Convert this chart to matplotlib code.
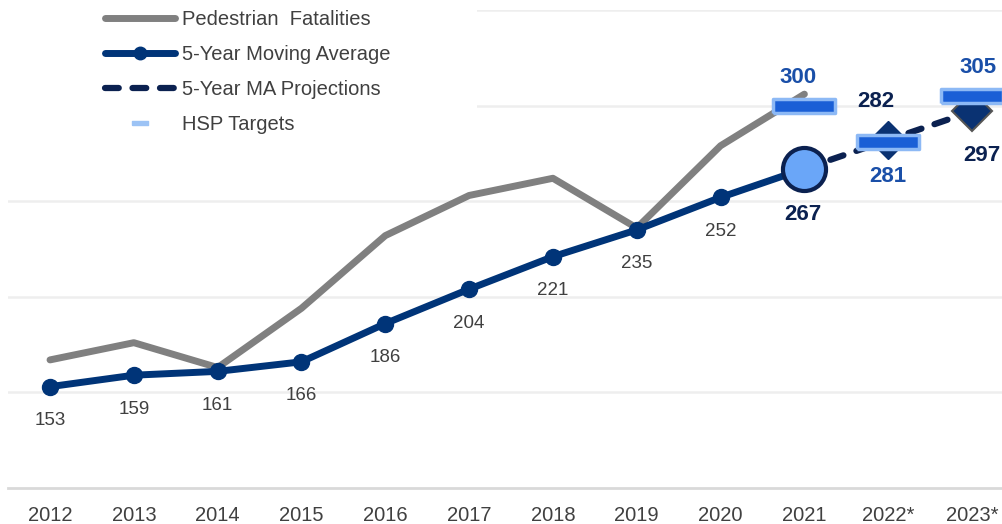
import matplotlib
matplotlib.use("Agg")
import matplotlib.pyplot as plt
from matplotlib.lines import Line2D
from matplotlib.patches import Rectangle

plt.rcParams['font.family'] = ['Liberation Sans', 'DejaVu Sans']

years = ['2012', '2013', '2014', '2015', '2016', '2017', '2018', '2019',
         '2020', '2021', '2022*', '2023*']
fatalities = [167, 176, 163, 194, 232, 253, 262, 236, 279, 306]
moving_avg = [153, 159, 161, 166, 186, 204, 221, 235, 252, 267]
proj_years = ['2021', '2022*', '2023*']
projections = [267, 282, 297]
target_years = ['2021', '2022*', '2023*']
hsp_targets = [300, 281, 305]

GRAY = '#808080'
NAVY = '#003478'
DARK_NAVY = '#0B2150'
BLUE = '#1A5FD6'
LIGHT_BLUE = '#8DB9F5'
LABEL_BLUE = '#1A4FA8'
TEXT = '#404040'

x_all = list(range(len(years)))
idx = {y: i for i, y in enumerate(years)}

fig = plt.figure(figsize=(10.02, 5.24), dpi=100)
ax = fig.add_axes([0.0081, 0.0687, 1.0038, 0.9122])
ax.set_xlim(-0.5, len(years) - 0.5)
ax.set_ylim(100, 350)

ax.set_axisbelow(True)
ax.set_yticks([150, 200, 250, 300, 350])
ax.yaxis.grid(True, color='#EEEEEE', linewidth=1.8)
ax.tick_params(axis='y', left=False, labelleft=False)
ax.set_xticks(x_all)
ax.set_xticklabels(years, fontsize=14.5, color=TEXT)
ax.tick_params(axis='x', length=0, pad=13)
for s in ['top', 'right', 'left']:
    ax.spines[s].set_visible(False)
ax.spines['bottom'].set_color('#D9D9D9')
ax.spines['bottom'].set_linewidth(2)

# white block behind the legend
ax.add_patch(Rectangle((0, 1 - 140 / 524), 477 / 1002, 140 / 524,
                       transform=fig.transFigure, facecolor='white',
                       edgecolor='none', zorder=1))

# pedestrian fatalities
ax.plot(range(len(fatalities)), fatalities, color=GRAY, linewidth=5,
        solid_capstyle='round', zorder=2)

# 5-year moving average
ax.plot(range(len(moving_avg)), moving_avg, color=NAVY, linewidth=5,
        marker='o', markersize=11.5, zorder=3)
for i, v in enumerate(moving_avg[:-1]):
    ax.annotate(str(v), (i, v), xytext=(0, -34), textcoords='offset pixels',
                ha='center', va='center', fontsize=13.5, color=TEXT)

# projections
px = [idx[y] for y in proj_years]
ax.plot(px, projections, color=DARK_NAVY, linewidth=4.5,
        linestyle=(0, (2.2, 2.2)), dash_capstyle='round', zorder=4)
ax.plot(px[1:2], projections[1:2], linestyle='none', marker='D',
        markersize=19.5, color='#0A3272', zorder=4)
ax.plot(px[2:3], projections[2:3], linestyle='none', marker='D',
        markersize=20.5, markerfacecolor='#0A3272', markeredgecolor='#555555',
        markeredgewidth=1.5, zorder=4)

# latest moving average point
ax.plot(px[0], projections[0], linestyle='none', marker='o', markersize=31,
        markerfacecolor='#6AA6F8', markeredgecolor=DARK_NAVY,
        markeredgewidth=3, zorder=6)

# HSP targets
rect = [(-2.25, -0.5), (2.25, -0.5), (2.25, 0.5), (-2.25, 0.5), (-2.25, -0.5)]
tx = [idx[y] for y in target_years]
ax.plot(tx, hsp_targets, linestyle='none', marker=rect, markersize=44,
        markerfacecolor=BLUE, markeredgecolor=LIGHT_BLUE,
        markeredgewidth=2.5, zorder=5)

bold = dict(ha='center', va='center', fontsize=16, fontweight='bold')
ax.annotate(str(moving_avg[-1]), (px[0], projections[0]), xytext=(-2, -46),
            textcoords='offset pixels', color=DARK_NAVY, **bold)
ax.annotate(str(projections[1]), (px[1], projections[1]), xytext=(-12, 39),
            textcoords='offset pixels', color=DARK_NAVY, **bold)
ax.annotate(str(projections[2]), (px[2], projections[2]), xytext=(10, -44),
            textcoords='offset pixels', color=DARK_NAVY, **bold)
ax.annotate(str(hsp_targets[0]), (tx[0], hsp_targets[0]), xytext=(-6, 28),
            textcoords='offset pixels', color=LABEL_BLUE, **bold)
ax.annotate(str(hsp_targets[1]), (tx[1], hsp_targets[1]), xytext=(0, -35),
            textcoords='offset pixels', color=LABEL_BLUE, **bold)
ax.annotate(str(hsp_targets[2]), (tx[2], hsp_targets[2]), xytext=(6, 29),
            textcoords='offset pixels', color=LABEL_BLUE, **bold)

handles = [
    Line2D([], [], color=GRAY, linewidth=5, solid_capstyle='round'),
    Line2D([], [], color=NAVY, linewidth=5, marker='o', markersize=9,
           solid_capstyle='round'),
    Line2D([], [], color=DARK_NAVY, linewidth=4.5, linestyle=(0, (2.2, 2.2)),
           dash_capstyle='round'),
    Line2D([], [], linestyle='none', marker=rect, markersize=12,
           color='#9CC3F5'),
]
labels = ['Pedestrian  Fatalities', '5-Year Moving Average',
          '5-Year MA Projections', 'HSP Targets']
leg = fig.legend(handles, labels, loc='upper left',
                 bbox_to_anchor=(105 / 1002, 1 - 10 / 524), frameon=False,
                 fontsize=14.5, handlelength=3.5, handletextpad=0.3,
                 labelspacing=0.8, borderpad=0, borderaxespad=0)
for t in leg.get_texts():
    t.set_color(TEXT)

fig.savefig('out.png', dpi=100)
